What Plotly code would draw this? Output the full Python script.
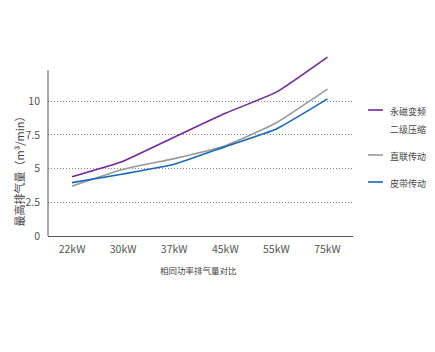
import plotly.graph_objects as go

categories = ["22kW", "30kW", "37kW", "45kW", "55kW", "75kW"]
series_names = ["永磁变频", "直联传动", "皮带传动"]
purple_sub = "二级压缩"
purple_vals = [4.4, 5.55, 7.33, 9.1, 10.67, 13.27]
gray_vals = [3.7, 4.95, 5.74, 6.7, 8.4, 10.89]
blue_vals = [3.96, 4.6, 5.32, 6.63, 7.94, 10.17]
colors = ["#74279a", "#9a9a9a", "#1a68b8"]
y_ticks = [0, 2.5, 5, 7.5, 10]
y_tick_text = ["0", "2.5", "5", "7.5", "10"]

FONT = "Noto Sans CJK SC"
TICKFONT = "Liberation Sans Narrow, Arial Narrow, Noto Sans CJK SC, sans-serif"
fig = go.Figure()
xs = list(range(len(categories)))
for vals, name, c in zip([purple_vals, gray_vals, blue_vals], series_names, colors):
    fig.add_trace(go.Scatter(x=xs, y=vals, mode="lines", name=name,
                             line=dict(color=c, width=1.6, shape="spline", smoothing=0.4),
                             showlegend=False))

fig.update_layout(
    width=435, height=352,
    margin=dict(l=47.5, r=82, t=54, b=116),
    paper_bgcolor="white", plot_bgcolor="white",
    font=dict(family=FONT, size=10, color="#444"),
    xaxis=dict(range=[-0.47, 5.5], tickmode="array", tickvals=xs, ticktext=categories,
               showline=True, linecolor="#555", linewidth=1, showgrid=False,
               zeroline=False, ticks="", ticklabelstandoff=3,
               tickfont=dict(family=TICKFONT, size=10.5, color="#555")),
    yaxis=dict(range=[0, 13.5], tickmode="array", tickvals=y_ticks, ticktext=y_tick_text,
               showline=False, showgrid=True, gridcolor="#888", griddash="1px,2px", gridwidth=1,
               zeroline=False, ticks="", ticklabelstandoff=7,
               tickfont=dict(family=TICKFONT, size=10.5, color="#555")),
)

# y axis line (shorter than plot area)
fig.add_shape(type="line", xref="paper", yref="y", x0=0, x1=0, y0=0, y1=12.3,
              line=dict(color="#555", width=1))

PW = 435 - 47.5 - 82
PH = 352 - 54 - 116
def px_x(x):
    return (x - 47.5) / PW
def px_y(y):
    return (352 - 116 - y) / PH

# axis titles
fig.add_annotation(text="最高排气量（m³/min）", xref="paper", yref="paper",
                   x=px_x(18), y=px_y(169), showarrow=False, textangle=-90,
                   font=dict(size=11, color="#444"), xanchor="center", yanchor="middle")
fig.add_annotation(text="相同功率排气量对比", xref="paper", yref="paper",
                   x=px_x(198), y=px_y(270), showarrow=False,
                   font=dict(size=8.5, color="#444"), xanchor="center", yanchor="middle")

# custom legend
leg_y = [110, 155, 182]
for name, c, yy in zip(series_names, colors, leg_y):
    fig.add_shape(type="line", xref="paper", yref="paper", x0=px_x(368), x1=px_x(383),
                  y0=px_y(yy), y1=px_y(yy), line=dict(color=c, width=1.6))
    fig.add_annotation(text=name, xref="paper", yref="paper",
                       x=px_x(388), y=px_y(yy + 1), showarrow=False,
                       xanchor="left", yanchor="middle", font=dict(size=9, color="#444"))
fig.add_annotation(text=purple_sub, xref="paper", yref="paper",
                   x=px_x(388), y=px_y(129), showarrow=False,
                   xanchor="left", yanchor="middle", font=dict(size=9, color="#444"))

fig.write_html("out.html")
